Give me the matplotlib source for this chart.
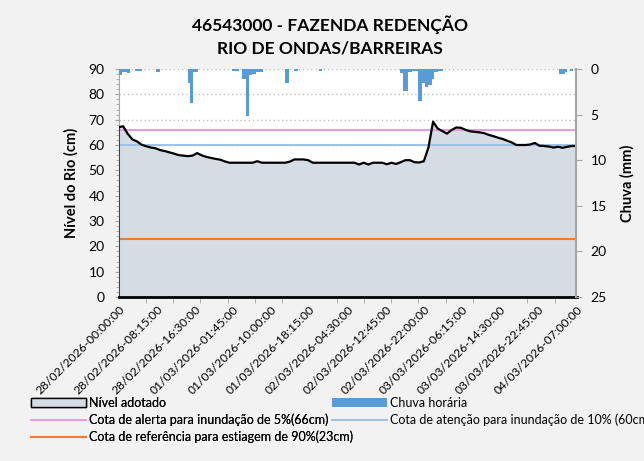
import numpy as np
import matplotlib
matplotlib.use("Agg")
import matplotlib.pyplot as plt
from matplotlib.patches import Patch
from matplotlib.lines import Line2D

plt.rcParams['font.family'] = ['Lato', 'DejaVu Sans']

# rótulos do eixo x (um a cada 33 leituras de 15 min)
rotulos = ['28/02/2026-00:00:00', '28/02/2026-08:15:00', '28/02/2026-16:30:00',
           '01/03/2026-01:45:00', '01/03/2026-10:00:00', '01/03/2026-18:15:00',
           '02/03/2026-04:30:00', '02/03/2026-12:45:00', '02/03/2026-22:00:00',
           '03/03/2026-06:15:00', '03/03/2026-14:30:00', '03/03/2026-22:45:00',
           '04/03/2026-07:00:00']
passo_rotulo = 33
n_leituras = 397

# nível (cm), uma leitura por hora (a cada 4 leituras)
nivel = [67.0, 67.4, 64.4, 62.2, 61.4, 60.1, 59.5, 59.0, 58.7, 58.0,
         57.6, 57.1, 56.6, 56.0, 55.8, 55.6, 55.8, 56.8, 55.9, 55.3,
         54.9, 54.5, 54.2, 53.5, 53.0, 53.0, 53.0, 53.0, 53.0, 53.0,
         53.6, 53.0, 53.0, 53.0, 53.0, 53.0, 53.0, 53.4, 54.3, 54.3,
         54.3, 54.0, 53.0, 53.0, 53.0, 53.0, 53.0, 53.0, 53.0, 53.0,
         53.0, 53.0, 52.3, 53.0, 52.3, 53.0, 53.0, 53.0, 52.4, 53.0,
         52.5, 53.2, 54.0, 54.0, 53.2, 53.1, 53.6, 59.0, 69.2, 66.5,
         65.5, 64.5, 65.9, 66.9, 66.8, 66.0, 65.4, 65.2, 65.0, 64.7,
         64.0, 63.5, 62.9, 62.4, 61.7, 61.0, 60.0, 60.0, 60.0, 60.2,
         60.8, 59.7, 59.6, 59.4, 59.0, 59.3, 58.9, 59.3, 59.6, 59.6]
nivel_pos = np.arange(len(nivel)) * 4

# chuva horária (mm): início e fim (índice de leitura) de cada bloco
chuva_ini = [0, 3, 7, 14, 17, 32, 60, 62, 64, 98, 107, 110, 113, 115, 119,
             144, 152, 173, 243, 246, 250, 254, 259, 262, 265, 268, 271, 273, 276,
             381, 386, 390]
chuva_fim = [2, 6, 9, 16, 19, 35, 61, 63, 68, 103, 109, 112, 114, 118, 124,
             146, 154, 175, 245, 249, 253, 258, 261, 264, 267, 270, 272, 275, 280,
             385, 387, 392]
chuva_mm = [0.65, 0.35, 0.45, 0.25, 0.25, 0.3, 1.5, 3.7, 0.3, 0.25, 1.05, 5.2, 0.7, 0.55, 0.3,
            1.5, 0.25, 0.25, 0.45, 2.4, 0.35, 0.25, 3.5, 1.5, 2.0, 1.8, 1.05, 0.3, 0.2,
            0.6, 0.3, 0.2]

cota_alerta = 66
cota_atencao = 60
cota_estiagem = 23

fundo = '#F2F2F2'
fig = plt.figure(figsize=(6.44, 4.61), dpi=100, facecolor=fundo)
ax = fig.add_axes([118.5/644, 1-297/461, 458/644, 228/461])
ax.set_facecolor('white')

x_fim = n_leituras - 1
ax.set_xlim(0, x_fim)
ax.set_ylim(0, 90)

# grade pontilhada
for v in range(10, 91, 10):
    ax.axhline(v, color='#BFBFBF', lw=1, ls=(0, (1, 2)), zorder=0)

ax.fill_between(nivel_pos, 0, nivel, color='#D6DCE4', lw=0, zorder=1)
ax.plot(np.r_[nivel_pos[0], nivel_pos], np.r_[0, nivel], color='black', lw=1.6, zorder=3)
ax.axhline(cota_alerta, color='#E99AE3', lw=1.5, zorder=2)
ax.axhline(cota_atencao, color='#9DC3E6', lw=1.5, zorder=2)
ax.axhline(cota_estiagem, color='#ED7D31', lw=1.5, zorder=2)

ax.set_yticks(range(0, 91, 10))
ax.set_yticks(range(0, 91, 2), minor=True)
ax.tick_params(axis='y', which='major', labelsize=10, length=3, color='#A6A6A6', pad=7)
ax.tick_params(axis='y', which='minor', length=2, color='#A6A6A6')
ax.set_ylabel('Nível do Rio (cm)', fontsize=10.5, fontweight='bold', labelpad=7)

ax.set_xticks(np.arange(len(rotulos)) * passo_rotulo)
ax.set_xticklabels(rotulos, rotation=45, ha='right', va='top', rotation_mode='anchor', fontsize=8.7)
ax.set_xticks(np.arange(0, x_fim + 1, passo_rotulo * 5 / 7), minor=True)
ax.tick_params(axis='x', which='major', length=0, pad=5)
ax.tick_params(axis='x', which='minor', length=4, color='#A6A6A6')

for s in ['top', 'right']:
    ax.spines[s].set_visible(False)
ax.spines['left'].set_color('#A6A6A6')
ax.spines['bottom'].set_color('black')
ax.spines['bottom'].set_linewidth(2)

ax2 = ax.twinx()
ax2.bar(chuva_ini, chuva_mm, width=np.array(chuva_fim) - np.array(chuva_ini) + 1,
        align='edge', color='#5B9BD5', lw=0)
ax2.set_ylim(25, 0)
ax2.set_xlim(0, x_fim)
ax2.set_yticks(range(0, 26, 5))
ax2.tick_params(axis='y', labelsize=10, length=4, color='#A6A6A6', pad=6)
ax2.set_ylabel('Chuva (mm)', fontsize=10.5, fontweight='bold', labelpad=10)
for s in ['top', 'left', 'bottom']:
    ax2.spines[s].set_visible(False)
ax2.spines['right'].set_color('#A6A6A6')
ax2.spines['right'].set_linewidth(1.5)

fig.text(0.513, 1-25/461, '46543000 - FAZENDA REDENÇÃO', ha='center', va='center',
         fontsize=12.5, fontweight='bold')
fig.text(0.513, 1-48/461, 'RIO DE ONDAS/BARREIRAS', ha='center', va='center',
         fontsize=12.5, fontweight='bold')

# legenda em duas colunas (duas legendas lado a lado)
opts = dict(loc='upper left', frameon=False, fontsize=9, handlelength=4.4, handleheight=0.7,
            handletextpad=0.25, labelspacing=0.36, borderpad=0, borderaxespad=0)
col1 = [Patch(facecolor='#D6DCE4', edgecolor='black', lw=1),
        Line2D([], [], color='#E99AE3', lw=1.2),
        Line2D([], [], color='#ED7D31', lw=1.5)]
nomes1 = ['Nível adotado',
          'Cota de alerta para inundação de 5%(66cm)',
          'Cota de referência para estiagem de 90%(23cm)']
col2 = [Patch(facecolor='#5B9BD5', edgecolor='none'),
        Line2D([], [], color='#9DC3E6', lw=1.5)]
nomes2 = ['Chuva horária',
          'Cota de atenção para inundação de 10% (60cm)']
leg1 = fig.legend(col1, nomes1, bbox_to_anchor=(31/644, 1-397/461), **opts)
fig.add_artist(leg1)
fig.legend(col2, nomes2, bbox_to_anchor=(332/644, 1-397/461), **opts)

fig.savefig('out.png', dpi=100, facecolor=fundo)
